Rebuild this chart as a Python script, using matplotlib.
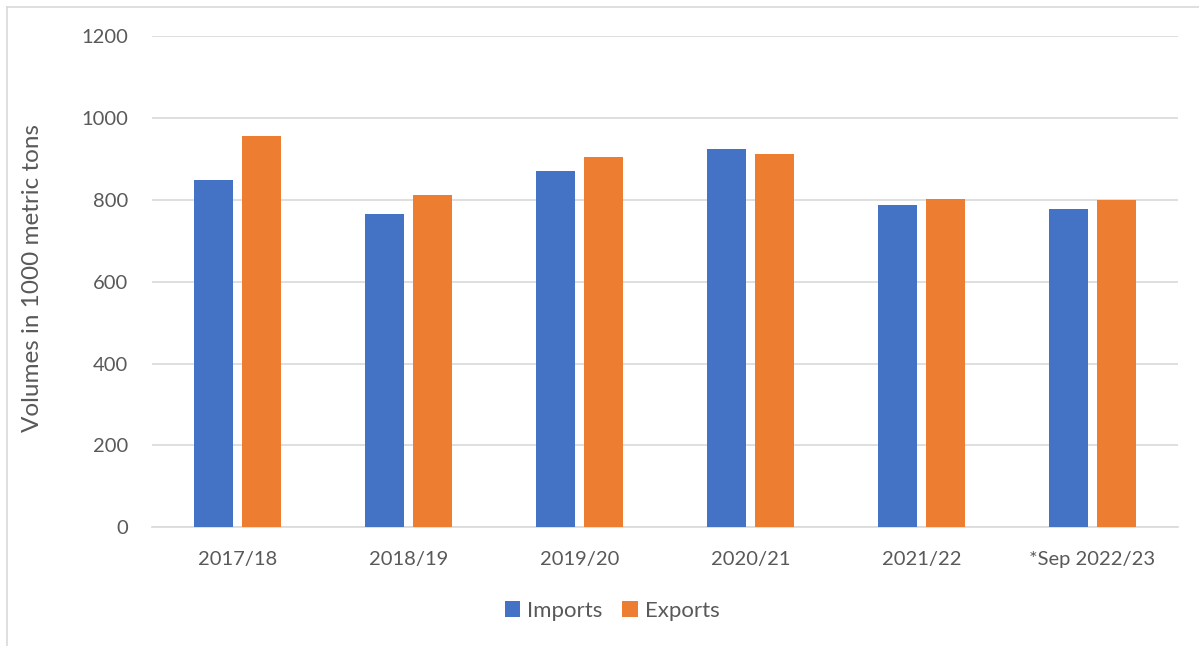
import matplotlib.pyplot as plt
import numpy as np
from matplotlib.lines import Line2D

seasons = ["2017/18", "2018/19", "2019/20", "2020/21", "2021/22", "*Sep 2022/23"]
imports = [848, 764, 869, 925, 788, 778]
exports = [956, 811, 905, 911, 801, 799]

BLUE = "#4472C4"
ORANGE = "#ED7D31"
GRID = "#D9D9D9"
TEXT = "#595959"

plt.rcParams["font.family"] = ["Lato", "DejaVu Sans"]

fig = plt.figure(figsize=(11.99, 6.46), dpi=100)
ax = fig.add_axes([0.1268, 0.1838, 0.8557, 0.7605])

x = np.arange(len(seasons))
width = 0.228
offset = 0.143
ax.bar(x - offset, imports, width, color=BLUE, label="Imports", zorder=3)
ax.bar(x + offset, exports, width, color=ORANGE, label="Exports", zorder=3)

ax.set_xlim(-0.5, len(seasons) - 0.5)
ax.set_ylim(0, 1200)
ax.set_yticks(range(0, 1201, 200))
ax.set_xticks(x)
ax.set_xticklabels(seasons)
ax.grid(axis="y", color=GRID, linewidth=1.2, zorder=0)
for side in ["top", "right", "left"]:
    ax.spines[side].set_visible(False)
ax.spines["bottom"].set_color(GRID)
ax.spines["bottom"].set_linewidth(1.2)
ax.tick_params(axis="both", length=0, labelsize=14.5, labelcolor=TEXT)
ax.tick_params(axis="x", pad=17)
ax.tick_params(axis="y", pad=17)

fig.text(33 / 1199, 1 - 278 / 646, "Volumes in 1000 metric tons", rotation=90,
         ha="center", va="center", fontsize=17.5, color=TEXT)

handles, labels = ax.get_legend_handles_labels()
leg = fig.legend(handles, labels, loc="center", bbox_to_anchor=(612 / 1199, 1 - 611 / 646),
                 ncol=2, frameon=False, fontsize=16, handlelength=0.7, handleheight=0.7,
                 handletextpad=0.3, columnspacing=0.9)
for t in leg.get_texts():
    t.set_color(TEXT)

# outer chart frame: only top and left edges are visible in the crop
fig.add_artist(Line2D([7 / 1199, 1], [1 - 7 / 646, 1 - 7 / 646], transform=fig.transFigure,
                      color=GRID, linewidth=1.2))
fig.add_artist(Line2D([7 / 1199, 7 / 1199], [0, 1 - 7 / 646], transform=fig.transFigure,
                      color=GRID, linewidth=1.2))

fig.savefig("out.png", dpi=100)
